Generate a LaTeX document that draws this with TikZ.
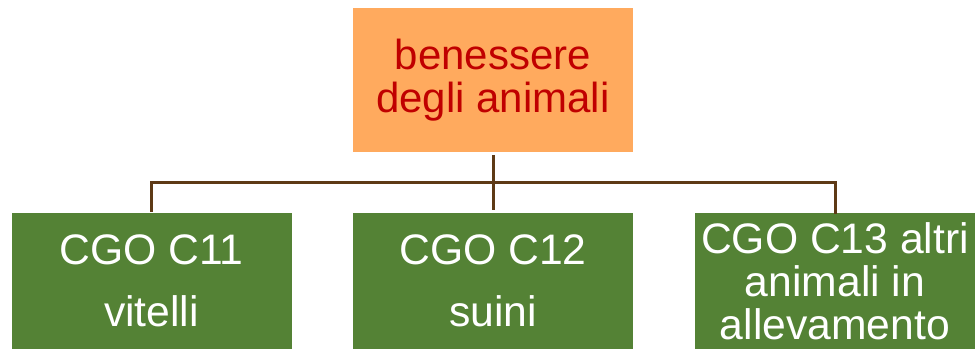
\documentclass[tikz,border=0pt]{standalone}
\usepackage{fontspec}
\setmainfont{Liberation Sans}
\usetikzlibrary{positioning}
\definecolor{topbox}{HTML}{FFAA5E}
\definecolor{toptext}{HTML}{C00000}
\definecolor{leaf}{HTML}{548235}
\definecolor{branch}{HTML}{5E3A16}
\tikzset{cgo/.style={fill=leaf,text=white,minimum width=210pt,minimum height=102pt,inner sep=0pt,align=center,font=\fontsize{32}{46.5}\selectfont}}
\tikzset{link/.style={draw=branch,line width=2.25pt}}

\begin{document}
\begin{tikzpicture}[x=0.75pt,y=-0.75pt]
    \useasboundingbox (0,0) rectangle (975,349);

    % top box
    \node [fill=topbox, text=toptext, minimum width=210pt, minimum height=108pt, inner sep=0pt, align=center, font=\fontsize{31.5}{32.25}\selectfont] (welfare) at (493,80) {benessere\\degli animali};

    % CGO boxes
    \node [cgo] (calves) at (151.5,281) {CGO C11\\vitelli};
    \node [cgo] (pigs) at (493,281) {CGO C12\\suini};
    \node [cgo, font=\fontsize{32}{32.25}\selectfont] (others) at (835,281) {CGO C13 altri\\animali in\\allevamento};

    % lines
    \draw [link, shorten <=2pt, shorten >=2pt] (welfare) -- (pigs);
    \draw [link] (calves.north) ++(0,-1) -- ++(0,-29) -| ([yshift=-1]others.north);

\end{tikzpicture}
\end{document}
